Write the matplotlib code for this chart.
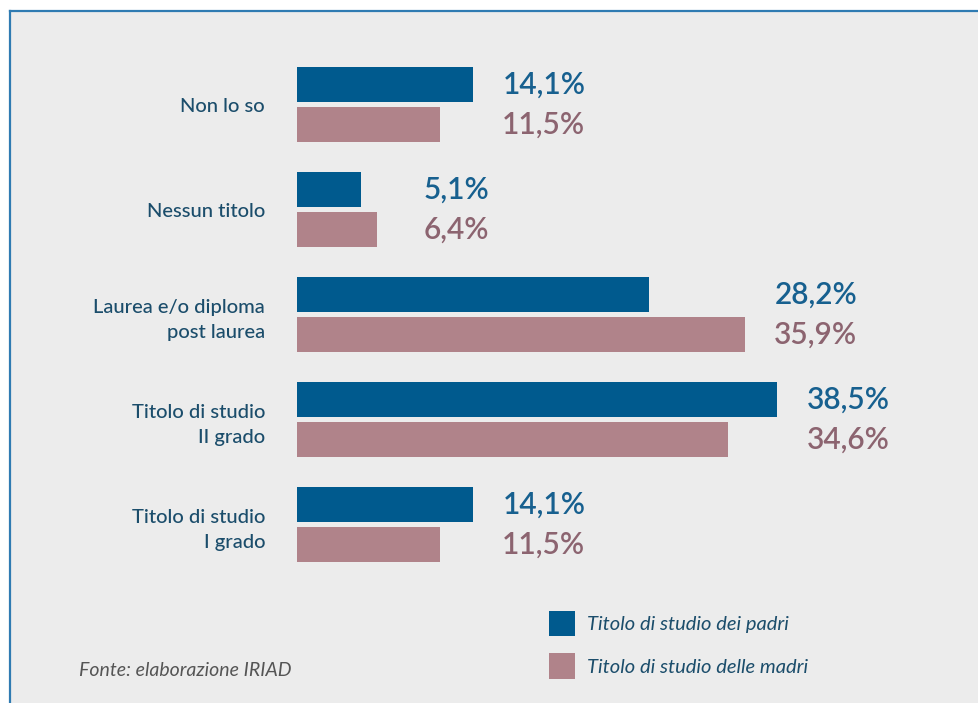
import matplotlib
matplotlib.use("Agg")
import matplotlib.pyplot as plt
from matplotlib.patches import Rectangle
from matplotlib.lines import Line2D

# Titolo di studio dei genitori (%)
categories = ['Non lo so', 'Nessun titolo', 'Laurea e/o diploma\npost laurea',
              'Titolo di studio\nII grado', 'Titolo di studio\nI grado']
padri = [14.1, 5.1, 28.2, 38.5, 14.1]
madri = [11.5, 6.4, 35.9, 34.6, 11.5]
series_labels = ['Titolo di studio dei padri', 'Titolo di studio delle madri']

blue = '#005a8e'
pink = '#b0838a'
blue_txt = '#17608f'
pink_txt = '#8c6470'
label_col = '#1b4d6b'
panel = '#ececec'

W, H = 979, 703
fig = plt.figure(figsize=(W / 100, H / 100), dpi=100, facecolor='white')

# grey panel with blue border on left/top
fig.patches.append(Rectangle((9.5 / W, 0), 1, 1 - 10.5 / H, transform=fig.transFigure,
                             facecolor=panel, edgecolor='none', zorder=-10))
fig.lines.append(Line2D([9.5 / W, 9.5 / W], [0, 1 - 10.5 / H], transform=fig.transFigure,
                        color='#2f7bb2', lw=1.6, zorder=-9))
fig.lines.append(Line2D([9.5 / W, 1], [1 - 10.5 / H, 1 - 10.5 / H], transform=fig.transFigure,
                        color='#2f7bb2', lw=1.6, zorder=-9))

# axes: x from 297 px, 12.47 px per percent; groups every 105 px
px_per = 12.47
ax = fig.add_axes([297 / W, (H - 577) / H, 50 * px_per / W, 525 / H])
ax.set_facecolor('none')

y = list(range(len(categories)))
h = 1 / 3
off = 20 / 105
b1 = ax.barh([i - off for i in y], padri, height=h, color=blue, label=series_labels[0])
b2 = ax.barh([i + off for i in y], madri, height=h, color=pink, label=series_labels[1])

ax.set_xlim(0, 50)
ax.set_ylim(len(categories) - 0.5, -0.5)
ax.set_yticks(y)
ax.set_yticklabels(categories, fontsize=14.5, family='Lato', weight='medium',
                   color=label_col, linespacing=1.55, ha='right')
ax.tick_params(axis='y', length=0, pad=23)
ax.set_xticks([])
for s in ax.spines.values():
    s.set_visible(False)

# value labels, right-aligned past the longer bar of each group
for i in y:
    xr = max(padri[i], madri[i])
    for val, yy, col in [(padri[i], i - off, blue_txt), (madri[i], i + off, pink_txt)]:
        ax.annotate(('%.1f%%' % val).replace('.', ','), xy=(xr, yy),
                    xytext=(81, 1.5), textcoords='offset points',
                    ha='right', va='center_baseline', fontsize=21.5,
                    family='Lato', weight='semibold', color=col)

leg = fig.legend(handles=[b1, b2], loc='upper left',
                 bbox_to_anchor=(549 / W, 1 - 611 / H), frameon=False,
                 prop={'family': 'Lato', 'style': 'italic', 'size': 14.5},
                 handlelength=1.3, handleheight=1.55, handletextpad=0.6,
                 labelspacing=0.85, borderpad=0, borderaxespad=0)
for t in leg.get_texts():
    t.set_color(label_col)

fig.text(79 / W, 1 - 670 / H, 'Fonte: elaborazione IRIAD', ha='left', va='center',
         fontsize=14, family='Lato', style='italic', color='#555555')

fig.savefig('out.png', dpi=100, facecolor=fig.get_facecolor())
